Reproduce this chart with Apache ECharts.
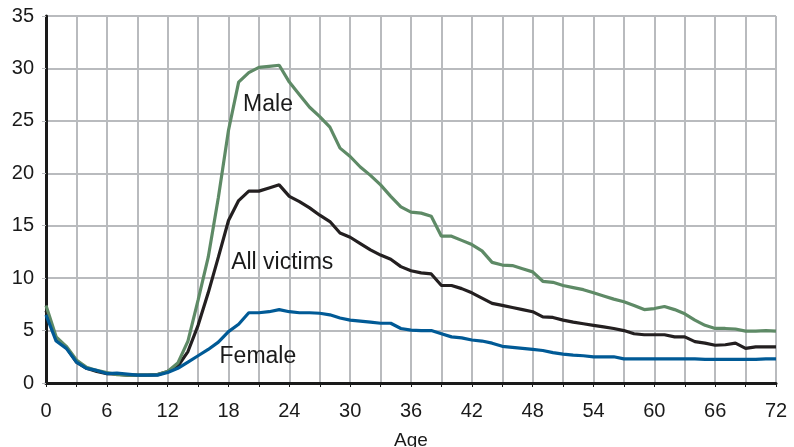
<!DOCTYPE html>
<html><head><meta charset="utf-8">
<script src="https://cdn.jsdelivr.net/npm/echarts@6/dist/echarts.min.js"></script>
<style>html,body{margin:0;padding:0;background:#fff}#c{width:794px;height:447px}</style>
</head><body><div id="c"></div>
<script>
var ages = [0,1,2,3,4,5,6,7,8,9,10,11,12,13,14,15,16,17,18,19,20,21,22,23,24,25,26,27,28,29,30,31,32,33,34,35,36,37,38,39,40,41,42,43,44,45,46,47,48,49,50,51,52,53,54,55,56,57,58,59,60,61,62,63,64,65,66,67,68,69,70,71,72];
var male = [7.4,4.4,3.5,2.2,1.5,1.2,1.0,0.8,0.75,0.75,0.75,0.8,1.1,1.9,4.0,7.9,12.0,17.7,24.1,28.7,29.6,30.1,30.2,30.3,28.7,27.5,26.3,25.4,24.4,22.4,21.6,20.6,19.8,18.9,17.8,16.8,16.3,16.2,15.9,14.0,14.0,13.6,13.2,12.6,11.5,11.25,11.2,10.9,10.6,9.7,9.6,9.3,9.1,8.9,8.6,8.3,8.0,7.75,7.4,7.0,7.1,7.3,7.0,6.6,6.0,5.5,5.2,5.2,5.15,4.95,4.95,5.0,4.95];
var allVictims = [6.9,4.2,3.4,2.0,1.4,1.1,0.9,0.85,0.75,0.75,0.75,0.8,1.1,1.6,3.0,5.5,8.6,12.0,15.5,17.4,18.3,18.3,18.6,18.9,17.8,17.3,16.7,16.0,15.4,14.3,13.9,13.3,12.7,12.2,11.8,11.1,10.7,10.5,10.4,9.3,9.3,9.0,8.6,8.1,7.6,7.4,7.2,7.0,6.8,6.3,6.25,6.0,5.8,5.65,5.5,5.35,5.2,5.0,4.7,4.6,4.6,4.6,4.4,4.4,3.95,3.8,3.6,3.65,3.8,3.3,3.45,3.45,3.45];
var female = [6.5,4.0,3.3,2.0,1.4,1.2,0.9,0.95,0.85,0.75,0.75,0.75,1.0,1.4,2.0,2.6,3.2,3.9,4.9,5.6,6.7,6.7,6.8,7.0,6.8,6.7,6.7,6.65,6.5,6.2,6.0,5.9,5.8,5.7,5.7,5.2,5.05,5.0,5.0,4.7,4.4,4.3,4.1,4.0,3.8,3.5,3.4,3.3,3.2,3.1,2.9,2.75,2.65,2.6,2.5,2.5,2.5,2.3,2.3,2.3,2.3,2.3,2.3,2.3,2.3,2.25,2.25,2.25,2.25,2.25,2.25,2.3,2.3];
var seriesNames = ['All victims','Male','Female'];
var labelPos = {'Male':[21.9,26.5],'All victims':[23.3,11.5],'Female':[20.9,2.5]};

function pairs(arr){ return ages.map(function(a,i){ return [a, arr[i]]; }); }
var FONT = '"Liberation Sans", Arial, Helvetica, sans-serif';
function mk(name, arr, color){
  return {
    name: name, type: 'line', data: pairs(arr), symbol: 'none',
    lineStyle: {color: color, width: 3.2}, itemStyle:{color:color},
    animation: false,
    markPoint: {
      symbol: 'circle', symbolSize: 0, silent: true,
      label: {show: true, position: 'inside', formatter: name, color: '#1a1a1a', fontSize: 23, fontFamily: FONT},
      data: [{coord: labelPos[name]}]
    }
  };
}
var chart = echarts.init(document.getElementById('c'));
chart.setOption({
  animation: false,
  grid: {left: 46, right: 18, top: 16, bottom: 64, containLabel: false, outerBoundsMode: 'none'},
  xAxis: {
    type: 'value', min: 0, max: 72, interval: 3,
    name: 'Age', nameLocation: 'middle', nameGap: 48,
    nameTextStyle: {color: '#1a1a1a', fontSize: 19, fontFamily: FONT},
    axisLine: {show: true, onZero: false, lineStyle: {color: '#1a1a1a', width: 3}},
    axisTick: {show: true, length: 4, lineStyle: {color: '#1a1a1a', width: 1}},
    axisLabel: {color: '#1a1a1a', fontSize: 20, fontFamily: FONT, margin: 18,
      formatter: function(v){ return v % 6 === 0 ? String(v) : ''; }},
    splitLine: {show: true, lineStyle: {color: '#b9bbbe', width: 2}}
  },
  yAxis: {
    type: 'value', min: 0, max: 35, interval: 5,
    axisLine: {show: true, lineStyle: {color: '#1a1a1a', width: 3}},
    axisTick: {show: true, length: 4, lineStyle: {color: '#b9bbbe', width: 1}},
    axisLabel: {color: '#1a1a1a', fontSize: 20, fontFamily: FONT, margin: 12},
    splitLine: {show: true, lineStyle: {color: '#b9bbbe', width: 2}}
  },
  series: [
    mk('All victims', allVictims, '#231f20'),
    mk('Male', male, '#5e8a66'),
    mk('Female', female, '#005a96')
  ]
});
</script></body></html>
